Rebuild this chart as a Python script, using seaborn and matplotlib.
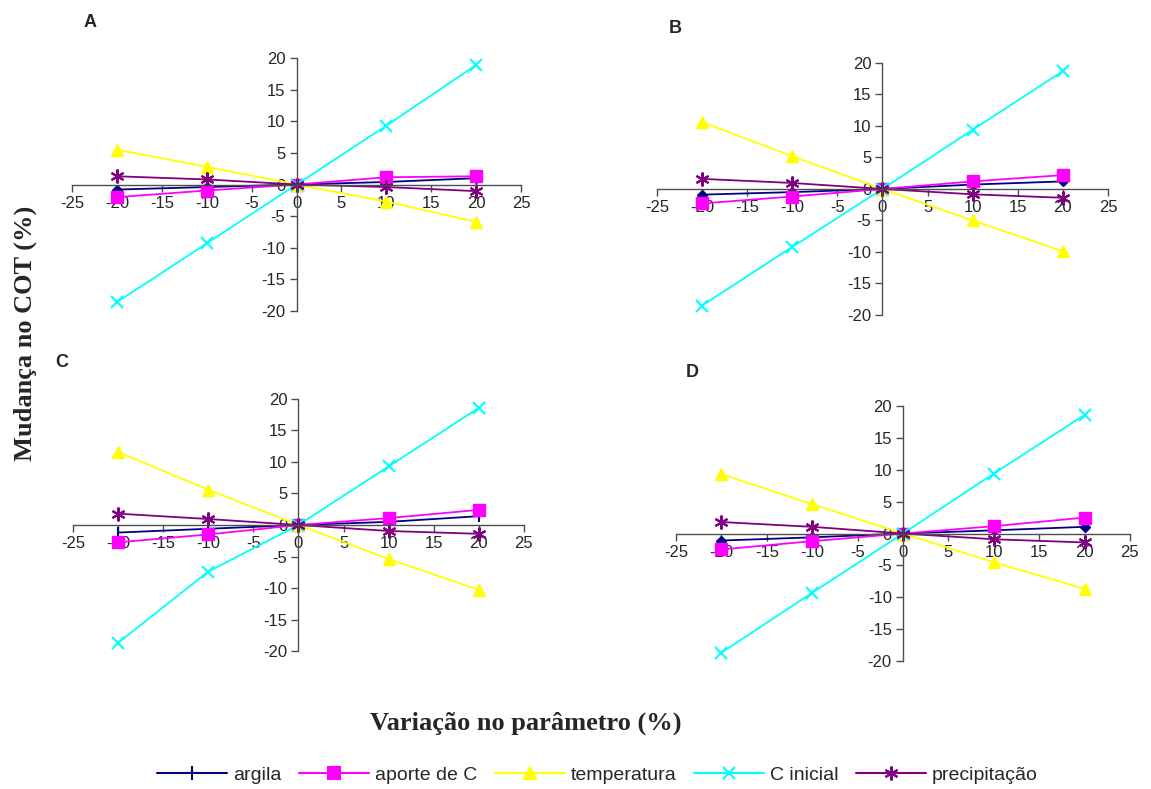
import numpy as np
import pandas as pd
import seaborn as sns
import matplotlib.pyplot as plt
from matplotlib.lines import Line2D

# x values (variation in parameter, %)
variacao = [-20, -10, 0, 10, 20]
series_names = ["argila", "aporte de C", "temperatura", "C inicial", "precipitação"]

# change in COT (%) per panel
painel_A = {
    "argila":       [-0.8, -0.4, 0, 0.4, 1.0],
    "aporte de C":  [-2.0, -0.95, 0, 1.15, 1.3],
    "temperatura":  [5.5, 2.8, 0, -2.7, -5.9],
    "C inicial":    [-18.6, -9.3, 0, 9.3, 18.9],
    "precipitação": [1.3, 0.8, 0, -0.4, -1.05],
}
painel_B = {
    "argila":       [-0.9, -0.5, 0, 0.7, 1.2],
    "aporte de C":  [-2.3, -1.2, 0, 1.2, 2.2],
    "temperatura":  [10.6, 5.2, 0, -5.0, -9.9],
    "C inicial":    [-18.5, -9.2, 0, 9.4, 18.7],
    "precipitação": [1.6, 0.95, 0, -0.85, -1.4],
}
painel_C = {
    "argila":       [-1.2, -0.6, 0, 0.5, 1.4],
    "aporte de C":  [-2.75, -1.5, 0, 1.1, 2.4],
    "temperatura":  [11.6, 5.6, 0, -5.4, -10.3],
    "C inicial":    [-18.7, -7.4, 0, 9.3, 18.6],
    "precipitação": [1.8, 0.95, 0, -0.95, -1.4],
}
painel_D = {
    "argila":       [-1.1, -0.6, 0, 0.5, 1.05],
    "aporte de C":  [-2.5, -1.2, 0, 1.15, 2.5],
    "temperatura":  [9.3, 4.6, 0, -4.5, -8.7],
    "C inicial":    [-18.7, -9.3, 0, 9.4, 18.6],
    "precipitação": [1.8, 1.05, 0, -0.9, -1.4],
}

cores = {"argila": "#000080", "aporte de C": "#FF00FF", "temperatura": "#FFFF00",
         "C inicial": "#00FFFF", "precipitação": "#800080"}
marcadores = {"argila": "D", "aporte de C": "s", "temperatura": "^",
              "C inicial": "x", "precipitação": (6, 2, 0)}
tamanhos = {"argila": 5, "aporte de C": 8, "temperatura": 9, "C inicial": 9, "precipitação": 10}

sns.set_style("ticks")
plt.rcParams["font.family"] = ["Liberation Sans", "DejaVu Sans"]
plt.rcParams["axes.unicode_minus"] = False

fig = plt.figure(figsize=(11.51, 7.89), dpi=100)

# axes rectangles [left, bottom, width, height] in figure fractions
paineis = [
    ("A", painel_A, [0.0626, 0.6058, 0.3901, 0.3207], (0.078, 0.972)),
    ("B", painel_B, [0.5708, 0.6008, 0.3918, 0.3194], (0.587, 0.964)),
    ("C", painel_C, [0.0634, 0.1749, 0.3918, 0.3194], (0.054, 0.541)),
    ("D", painel_D, [0.5873, 0.1622, 0.3944, 0.3232], (0.601, 0.528)),
]

for letra, dados, rect, pos_letra in paineis:
    ax = fig.add_axes(rect)
    for nome in series_names:
        df = pd.DataFrame({"x": variacao, "y": dados[nome]})
        filled = nome not in ("C inicial", "precipitação")
        mk = marcadores[nome]
        ms = tamanhos[nome]
        # panel C shows the argila points as short vertical ticks
        if letra == "C" and nome == "argila":
            mk, ms, filled = "|", 9, False
        sns.lineplot(data=df, x="x", y="y", ax=ax, color=cores[nome],
                     marker=mk, markersize=ms,
                     markeredgecolor=cores[nome],
                     markerfacecolor=cores[nome] if filled else "none",
                     markeredgewidth=1.0 if filled else 1.5,
                     linewidth=1.3, legend=False)
    ax.set_xlim(-25, 25)
    ax.set_ylim(-20, 20)
    ax.set_xticks(np.arange(-25, 26, 5))
    ax.set_yticks(np.arange(-20, 21, 5))
    ax.spines["left"].set_position(("data", 0))
    ax.spines["bottom"].set_position(("data", 0))
    ax.spines["top"].set_visible(False)
    ax.spines["right"].set_visible(False)
    for s in ("left", "bottom"):
        ax.spines[s].set_color("#4d4d4d")
        ax.spines[s].set_linewidth(1.0)
    ax.tick_params(axis="both", direction="out", length=5, width=1.0,
                   color="#4d4d4d", labelsize=12, pad=3)
    ax.set_xlabel("")
    ax.set_ylabel("")
    ax.patch.set_visible(False)
    fig.text(pos_letra[0], pos_letra[1], letra, fontsize=13, fontweight="bold",
             ha="center", va="center")

fig.text(0.022, 0.578, "Mudança no COT (%)", rotation=90, ha="center", va="center",
         fontsize=19, fontweight="bold", family=["Liberation Serif", "DejaVu Serif"])
fig.text(0.457, 0.083, "Variação no parâmetro (%)", ha="center", va="center",
         fontsize=19, fontweight="bold", family=["Liberation Serif", "DejaVu Serif"])

handles = []
for nome in series_names:
    filled = nome not in ("C inicial", "precipitação")
    mk = "|" if nome == "argila" else marcadores[nome]
    handles.append(Line2D([0], [0], color=cores[nome], linewidth=1.5, marker=mk,
                          markersize=10 if nome == "argila" else tamanhos[nome],
                          markeredgecolor=cores[nome], markeredgewidth=1.5,
                          markerfacecolor=cores[nome] if filled else "none"))
fig.legend(handles, series_names, loc="center", bbox_to_anchor=(0.519, 0.018),
           ncol=5, frameon=False, fontsize=14, handlelength=3.6,
           handletextpad=0.3, columnspacing=0.9)

fig.savefig("out.png", dpi=100)
